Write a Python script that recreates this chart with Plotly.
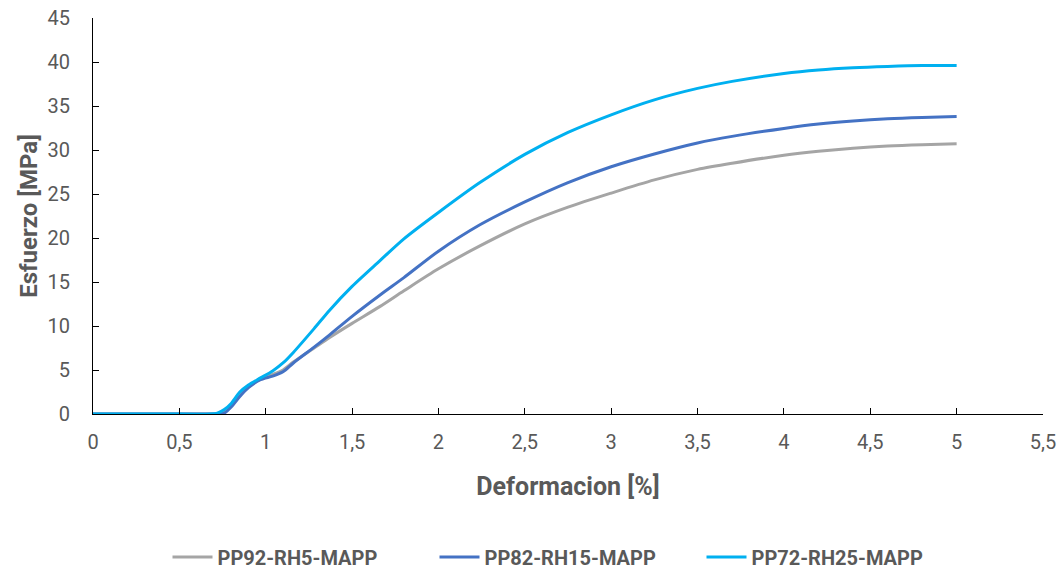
import plotly.graph_objects as go

# Strain (%) sampling points shared by the three tensile curves
deformacion = [0, 0.4, 0.68, 0.72, 0.76, 0.8, 0.85, 0.9, 0.97, 1.04, 1.1, 1.16,
               1.28, 1.37, 1.5, 1.66, 1.8, 2.0, 2.24, 2.5, 2.75, 3.0, 3.25, 3.5,
               3.7, 4.0, 4.2, 4.4, 4.6, 4.8, 5.0]

# Stress (MPa) for each formulation
pp92_rh5 = [0, 0, 0, 0.05, 0.3, 1.0, 2.2, 3.1, 4.0, 4.5, 5.0, 5.9,
            7.5, 8.7, 10.3, 12.2, 14.0, 16.5, 19.1, 21.6, 23.5, 25.1, 26.6, 27.8,
            28.5, 29.4, 29.85, 30.2, 30.45, 30.6, 30.7]
pp82_rh15 = [0, 0, 0, 0, 0.1, 0.8, 2.0, 3.0, 3.9, 4.3, 4.8, 5.8,
             7.6, 9.0, 11.1, 13.5, 15.5, 18.5, 21.5, 24.1, 26.3, 28.1, 29.55, 30.8,
             31.55, 32.45, 32.95, 33.3, 33.55, 33.7, 33.8]
pp72_rh25 = [0, 0, 0, 0.1, 0.5, 1.2, 2.5, 3.3, 4.1, 4.9, 5.8, 7.0,
             9.7, 11.8, 14.5, 17.4, 19.9, 22.9, 26.3, 29.5, 32.0, 34.0, 35.7, 37.0,
             37.8, 38.7, 39.1, 39.35, 39.5, 39.6, 39.6]

series_names = ["PP92-RH5-MAPP", "PP82-RH15-MAPP", "PP72-RH25-MAPP"]
series_values = [pp92_rh5, pp82_rh15, pp72_rh25]
series_colors = ["#A5A5A5", "#4472C4", "#00B0F0"]

x_ticks = [0, 0.5, 1, 1.5, 2, 2.5, 3, 3.5, 4, 4.5, 5, 5.5]
x_tick_labels = ["0", "0,5", "1", "1,5", "2", "2,5", "3", "3,5", "4", "4,5", "5", "5,5"]
y_ticks = [0, 5, 10, 15, 20, 25, 30, 35, 40, 45]

FONT = "Liberation Sans Narrow, Roboto, sans-serif"
GREY = "#595959"

fig = go.Figure()
for name, vals, col in zip(series_names, series_values, series_colors):
    fig.add_trace(go.Scatter(
        x=deformacion, y=vals, name=name, mode="lines",
        line=dict(color=col, width=3, shape="spline", smoothing=0.8),
    ))

fig.update_layout(
    width=1063, height=574,
    margin=dict(l=93, r=20, t=18, b=160, autoexpand=False),
    paper_bgcolor="white", plot_bgcolor="white",
    font=dict(family=FONT, size=20, color=GREY),
    showlegend=True,
    legend=dict(
        orientation="h", x=0.5, xanchor="center", y=-0.361, yanchor="middle",
        font=dict(family=FONT, size=20, color=GREY, weight="bold"),
        itemwidth=40, tracegroupgap=0,
        entrywidthmode="pixels", entrywidth=212,
    ),
)

fig.update_xaxes(
    range=[0, 5.5], tickvals=x_ticks, ticktext=x_tick_labels,
    showgrid=False, zeroline=False, automargin=False,
    showline=True, linecolor="#000000", linewidth=1,
    ticks="inside", ticklen=6, tickcolor="#000000",
    ticklabelstandoff=10,
    tickfont=dict(family=FONT, size=20, color=GREY),
    title=dict(text="Deformacion [%]", standoff=24,
               font=dict(family=FONT, size=25, color=GREY, weight="bold")),
)
fig.update_yaxes(
    range=[0, 45], tickvals=y_ticks,
    showgrid=False, zeroline=False, automargin=False,
    showline=True, linecolor="#000000", linewidth=1,
    ticks="inside", ticklen=6, tickcolor="#000000",
    ticklabelstandoff=18,
    tickfont=dict(family=FONT, size=20, color=GREY),
    title=dict(text="Esfuerzo [MPa]", standoff=3,
               font=dict(family=FONT, size=24, color=GREY, weight="bold")),
)

fig.write_html("out.html")
